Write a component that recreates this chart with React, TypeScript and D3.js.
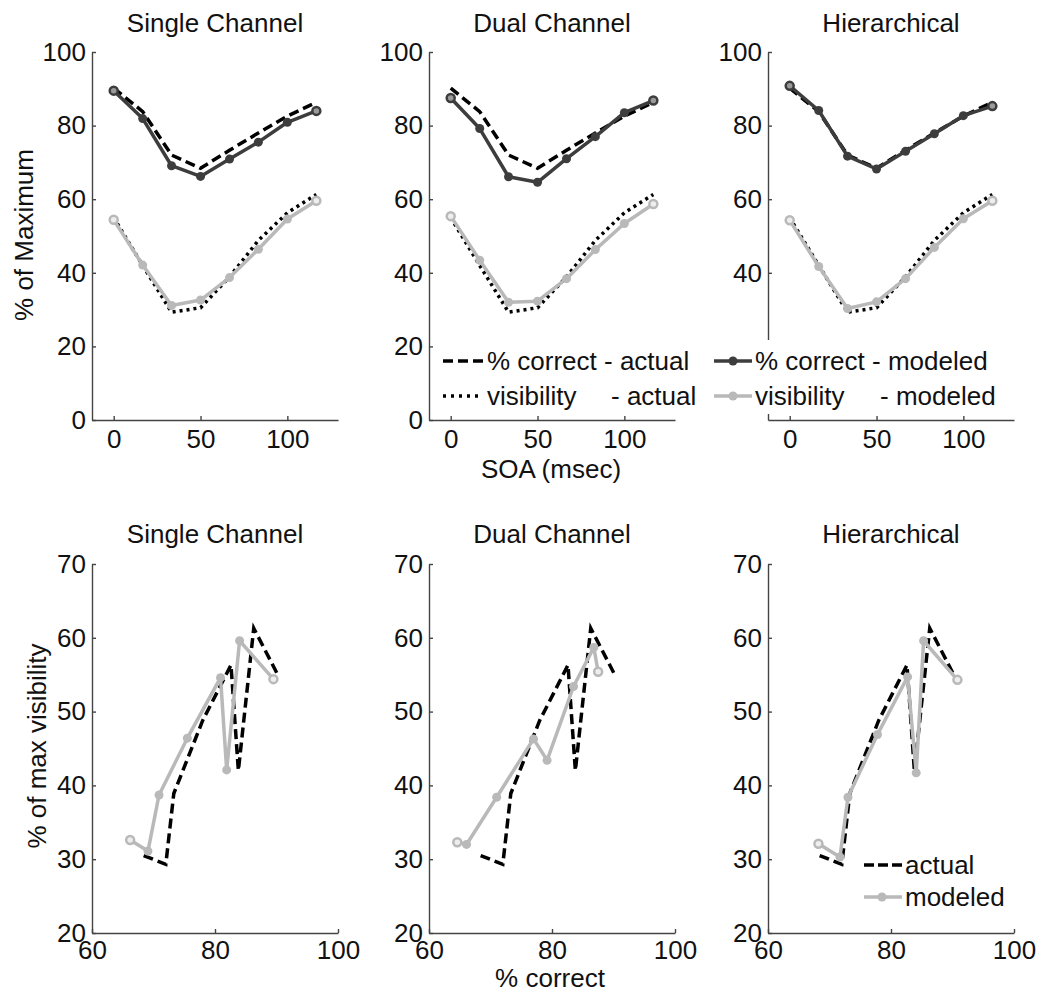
import React, { useEffect, useRef } from 'react';
import * as d3 from 'd3';

const models = ['Single Channel', 'Dual Channel', 'Hierarchical'];
const soa = [0, 16.7, 33.3, 50, 66.7, 83.3, 100, 116.7];
// actual data (same in every panel)
const correctActual = [90.2, 83.8, 72.0, 68.4, 73.3, 78.0, 82.6, 86.3];
const visActual = [55.0, 42.0, 29.3, 30.5, 38.9, 48.8, 56.3, 61.3];
// modeled, per model
const correctSingle = [89.5, 81.9, 69.1, 66.2, 70.9, 75.5, 80.9, 84.0];
const visSingle = [54.4, 42.1, 31.1, 32.6, 38.7, 46.4, 54.6, 59.6];
const correctDual = [87.5, 79.2, 66.1, 64.6, 71.0, 77.0, 83.5, 86.8];
const visDual = [55.4, 43.4, 32.0, 32.3, 38.4, 46.3, 53.4, 58.7];
const correctHier = [90.8, 84.1, 71.7, 68.2, 73.0, 77.8, 82.7, 85.3];
const visHier = [54.3, 41.7, 30.3, 32.1, 38.4, 46.9, 54.7, 59.6];

const soaTicks = [0, 50, 100];
const pctTicks = [0, 20, 40, 60, 80, 100];
const pctTicksHidden = [40, 60, 80, 100]; // 0 and 20 sit under the legend
const corrTicks = [60, 80, 100];
const visTicks = [20, 30, 40, 50, 60, 70];

export default function App() {
  const ref = useRef<SVGSVGElement>(null);

  useEffect(() => {
    const svg = d3.select(ref.current);
    svg.selectAll('*').remove();

    const font = '"Liberation Sans", Arial, Helvetica, sans-serif';
    const fs = 26;
    const ink = '#111';
    const axisCol = '#444';
    const darkCol = '#3d3d3d';
    const lightCol = '#b9b9b9';
    const lefts = [92, 429, 768];
    const pw = 246;
    const topY = [420, 52];
    const botY = [933, 564];

    const panels = [
      { name: models[0], corr: correctSingle, vis: visSingle },
      { name: models[1], corr: correctDual, vis: visDual },
      { name: models[2], corr: correctHier, vis: visHier },
    ];

    const styleAxis = (g: any) => {
      g.attr('font-family', null).attr('font-size', null);
      g.select('.domain').attr('stroke', axisCol).attr('stroke-width', 1.4);
      g.selectAll('.tick line').attr('stroke', axisCol).attr('stroke-width', 1.4);
      g.selectAll('.tick text').attr('fill', ink)
        .style('font-size', fs + 'px').style('font-family', font);
    };

    const text = (x: number, y: number, s: string, anchor = 'middle') =>
      svg.append('text').attr('x', x).attr('y', y).attr('text-anchor', anchor)
        .attr('fill', ink).style('font-family', font).style('font-size', fs + 'px').text(s);

    const line = (xs: any, ys: any) => d3.line<number[]>().x(d => xs(d[0])).y(d => ys(d[1]));

    const markers = (pts: number[][], xs: any, ys: any, col: string, ringFill: string) => {
      pts.forEach((p, i) => {
        const end = i === 0 || i === pts.length - 1;
        svg.append('circle')
          .attr('cx', xs(p[0])).attr('cy', ys(p[1]))
          .attr('r', end ? 4 : 4.5)
          .attr('fill', end ? ringFill : col)
          .attr('stroke', col).attr('stroke-width', end ? 2.5 : 0);
      });
    };

    // ---------- top row: % of maximum vs SOA ----------
    panels.forEach((p, i) => {
      const x = d3.scaleLinear().domain([-12.5, 129.17]).range([lefts[i], lefts[i] + pw]);
      const y = d3.scaleLinear().domain([0, 100]).range(topY);

      svg.append('g').attr('transform', `translate(0,${topY[0]})`)
        .call(d3.axisBottom(x).tickValues(soaTicks).tickSize(-4).tickSizeOuter(0).tickPadding(10))
        .call(styleAxis);
      svg.append('g').attr('transform', `translate(${lefts[i]},0)`)
        .call(d3.axisLeft(y).tickValues(i === 2 ? pctTicksHidden : pctTicks)
          .tickSize(-4).tickSizeOuter(0).tickPadding(6))
        .call(styleAxis);

      text(lefts[i] + pw / 2, 32, p.name);

      const cA = soa.map((s, k) => [s, correctActual[k]]);
      const vA = soa.map((s, k) => [s, visActual[k]]);
      const cM = soa.map((s, k) => [s, p.corr[k]]);
      const vM = soa.map((s, k) => [s, p.vis[k]]);

      svg.append('path').attr('d', line(x, y)(cA)).attr('fill', 'none')
        .attr('stroke', '#000').attr('stroke-width', 3.5).attr('stroke-dasharray', '10,5');
      svg.append('path').attr('d', line(x, y)(vA)).attr('fill', 'none')
        .attr('stroke', '#000').attr('stroke-width', 3.5).attr('stroke-dasharray', '3,4');
      svg.append('path').attr('d', line(x, y)(cM)).attr('fill', 'none')
        .attr('stroke', darkCol).attr('stroke-width', 3.5).attr('stroke-linejoin', 'round');
      markers(cM, x, y, darkCol, '#9a9a9a');
      svg.append('path').attr('d', line(x, y)(vM)).attr('fill', 'none')
        .attr('stroke', lightCol).attr('stroke-width', 3.5).attr('stroke-linejoin', 'round');
      markers(vM, x, y, lightCol, '#eeeeee');
    });

    svg.append('text').attr('transform', 'translate(33,235) rotate(-90)')
      .attr('text-anchor', 'middle').attr('fill', ink)
      .style('font-family', font).style('font-size', fs + 'px').text('% of Maximum');
    text(551, 478, 'SOA (msec)');

    // top legend (white box over the right panel's axis)
    svg.append('rect').attr('x', 434).attr('y', 340).attr('width', 578).attr('height', 74).attr('fill', '#fff');
    const r1 = 361, r2 = 396;
    svg.append('line').attr('x1', 443).attr('x2', 483).attr('y1', r1).attr('y2', r1)
      .attr('stroke', '#000').attr('stroke-width', 3.5).attr('stroke-dasharray', '10,5');
    svg.append('line').attr('x1', 443).attr('x2', 483).attr('y1', r2).attr('y2', r2)
      .attr('stroke', '#000').attr('stroke-width', 3.5).attr('stroke-dasharray', '3,5');
    svg.append('line').attr('x1', 714).attr('x2', 752).attr('y1', r1).attr('y2', r1)
      .attr('stroke', darkCol).attr('stroke-width', 3.5);
    svg.append('circle').attr('cx', 733).attr('cy', r1).attr('r', 4.5).attr('fill', darkCol);
    svg.append('line').attr('x1', 714).attr('x2', 752).attr('y1', r2).attr('y2', r2)
      .attr('stroke', lightCol).attr('stroke-width', 3.5);
    svg.append('circle').attr('cx', 733).attr('cy', r2).attr('r', 4.5).attr('fill', lightCol);
    text(487, r1 + 9, '% correct - actual', 'start');
    text(487, r2 + 9, 'visibility', 'start');
    text(611, r2 + 9, '- actual', 'start');
    text(755, r1 + 9, '% correct - modeled', 'start');
    text(755, r2 + 9, 'visibility', 'start');
    text(880, r2 + 9, '- modeled', 'start');

    // ---------- bottom row: visibility vs % correct ----------
    panels.forEach((p, i) => {
      const x = d3.scaleLinear().domain([60, 100]).range([lefts[i], lefts[i] + pw]);
      const y = d3.scaleLinear().domain([20, 70]).range(botY);

      svg.append('g').attr('transform', `translate(0,${botY[0]})`)
        .call(d3.axisBottom(x).tickValues(corrTicks).tickSize(-4).tickSizeOuter(0).tickPadding(8))
        .call(styleAxis);
      svg.append('g').attr('transform', `translate(${lefts[i]},0)`)
        .call(d3.axisLeft(y).tickValues(visTicks).tickSize(-4).tickSizeOuter(0).tickPadding(6))
        .call(styleAxis);

      text(lefts[i] + pw / 2, 543, p.name);

      const act = correctActual.map((c, k) => [c, visActual[k]]).sort((a, b) => a[0] - b[0]);
      const mod = p.corr.map((c, k) => [c, p.vis[k]]).sort((a, b) => a[0] - b[0]);

      svg.append('path').attr('d', line(x, y)(act)).attr('fill', 'none')
        .attr('stroke', '#000').attr('stroke-width', 3.5).attr('stroke-dasharray', '10,5');
      svg.append('path').attr('d', line(x, y)(mod)).attr('fill', 'none')
        .attr('stroke', lightCol).attr('stroke-width', 3.5).attr('stroke-linejoin', 'round');
      markers(mod, x, y, lightCol, '#eeeeee');
    });

    svg.append('text').attr('transform', 'translate(46,746) rotate(-90)')
      .attr('text-anchor', 'middle').attr('fill', ink)
      .style('font-family', font).style('font-size', fs + 'px').text('% of max visibility');
    text(550, 987, '% correct');

    // bottom legend
    svg.append('line').attr('x1', 864).attr('x2', 902).attr('y1', 865).attr('y2', 865)
      .attr('stroke', '#000').attr('stroke-width', 3.5).attr('stroke-dasharray', '10,4');
    svg.append('line').attr('x1', 864).attr('x2', 902).attr('y1', 897).attr('y2', 897)
      .attr('stroke', lightCol).attr('stroke-width', 3.5);
    svg.append('circle').attr('cx', 882).attr('cy', 897).attr('r', 4.5).attr('fill', lightCol);
    text(905, 874, 'actual', 'start');
    text(905, 906, 'modeled', 'start');
  }, []);

  return (
    <svg ref={ref} width={1038} height={992}
      style={{ position: 'absolute', left: 0, top: 0, background: '#fff' }} />
  );
}
